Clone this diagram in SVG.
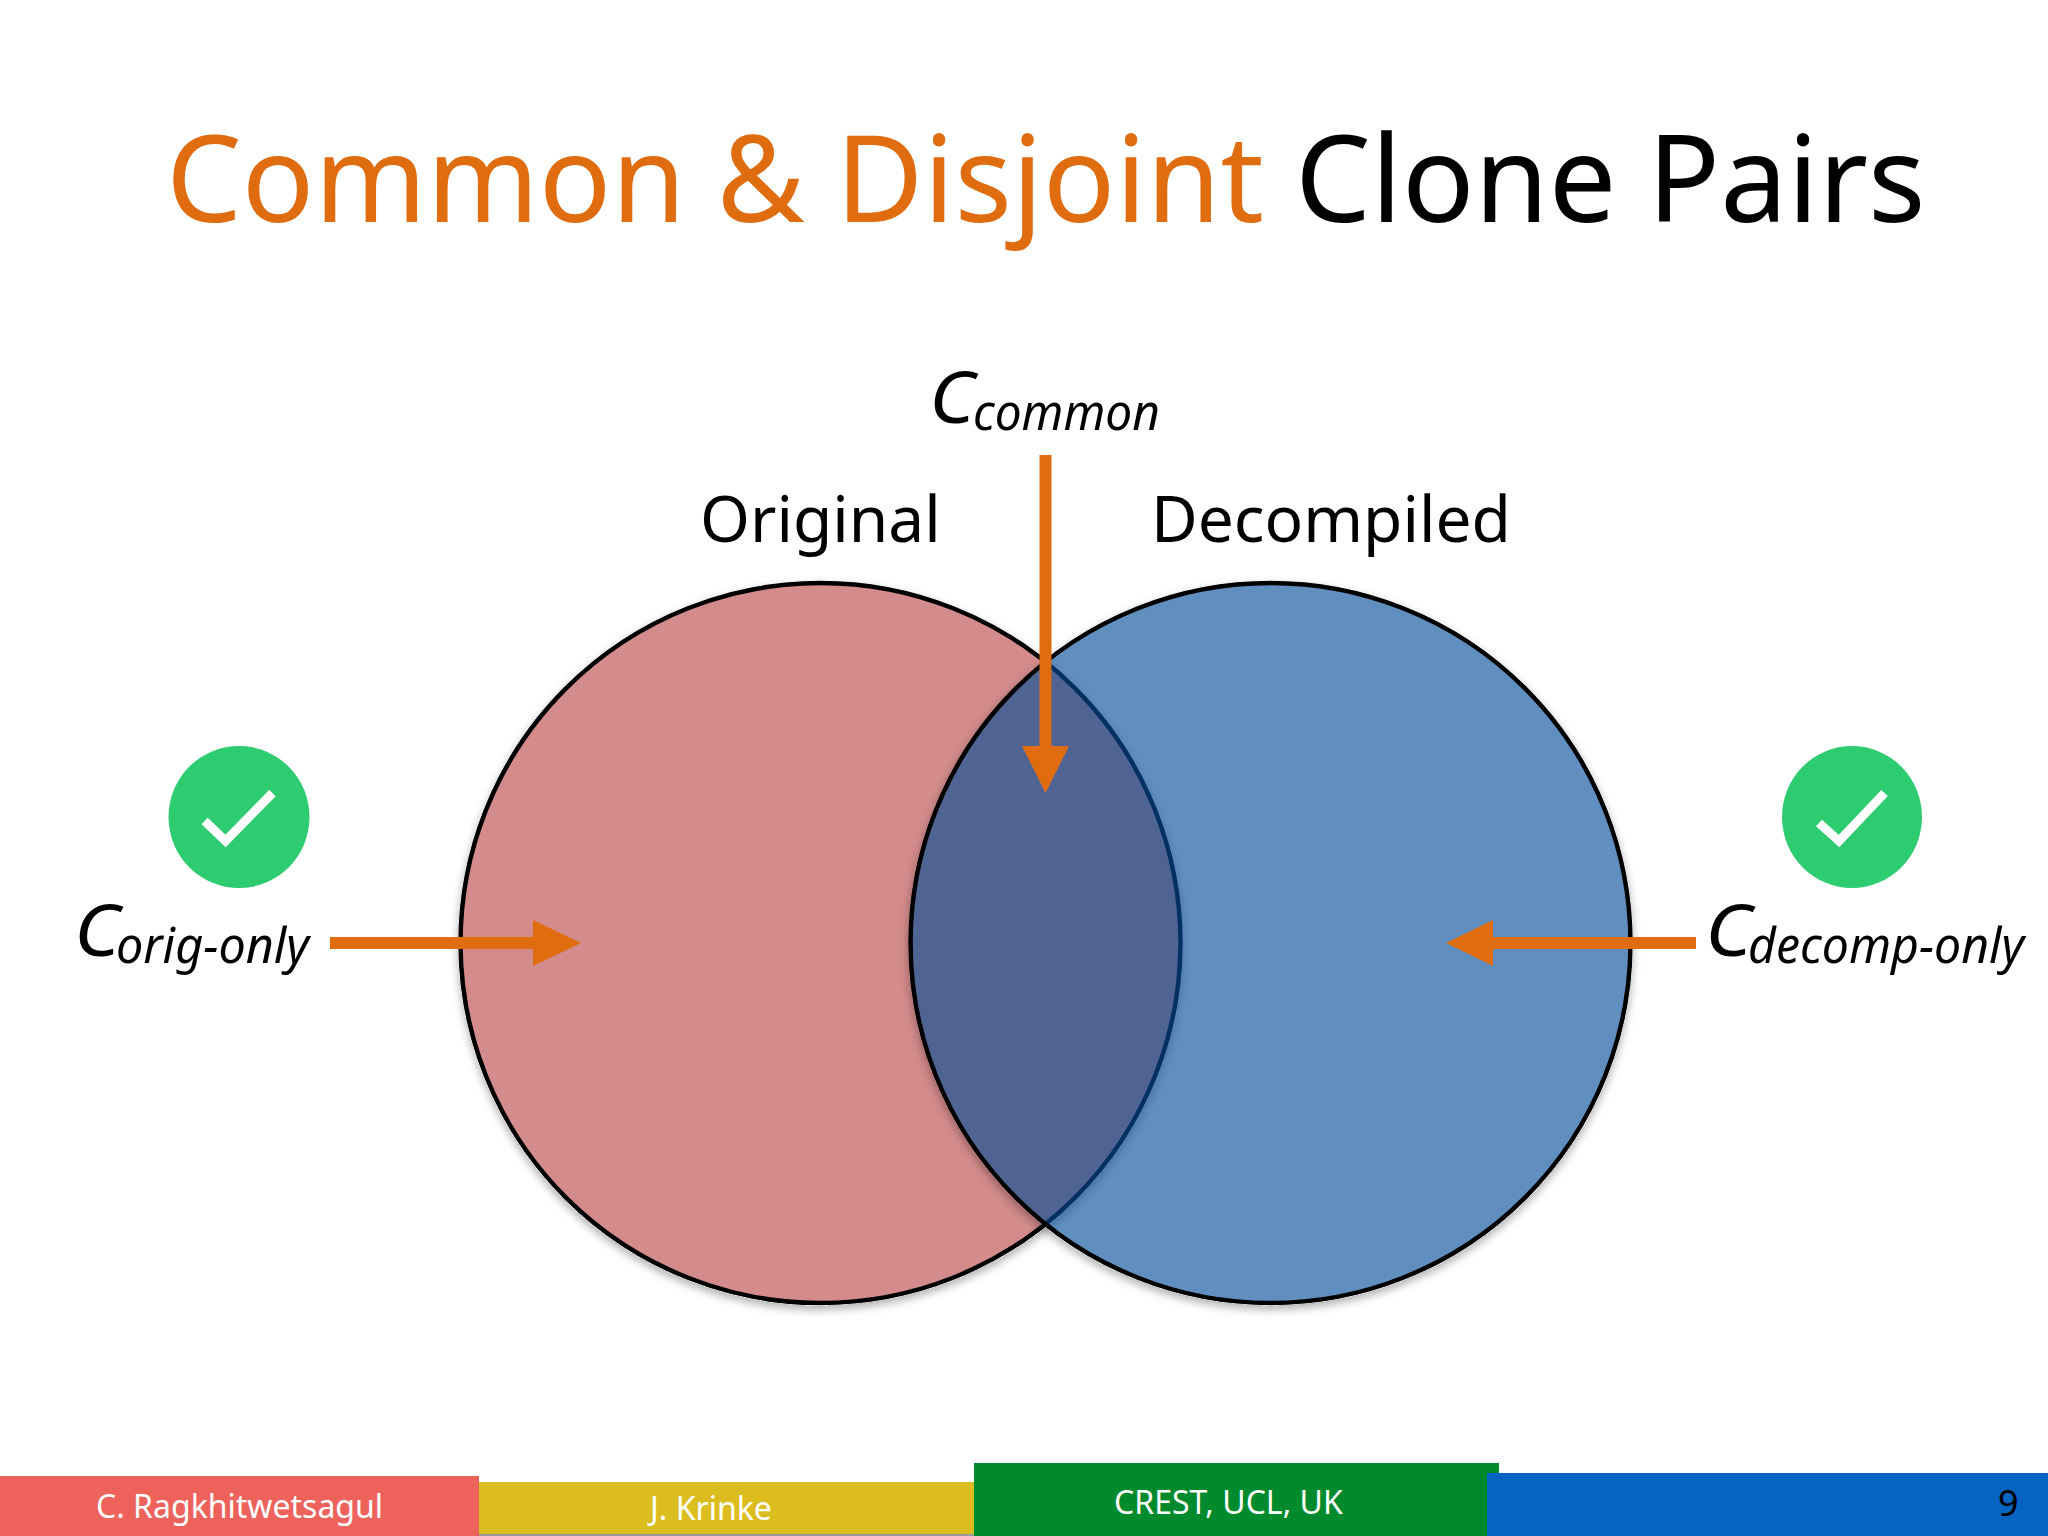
<svg xmlns="http://www.w3.org/2000/svg" width="2048" height="1536" viewBox="0 0 2048 1536">
<style>
text{font-family:"Noto Sans","Open Sans",sans-serif}
.ttl{font-size:120px}
.lbl{font-size:64px;fill:#000}
.c{font-size:72px;font-style:italic;fill:#000}
.sub{font-size:50px;font-style:italic;fill:#000}
.ft{font-size:32px;fill:#fff}
.ring{stroke:#000;stroke-width:4.5}
.arrow{fill:#e06c10}
.check{fill:none;stroke:#fff;stroke-width:9}
</style>
<defs>
<filter id="sh" x="-5%" y="-5%" width="110%" height="110%" color-interpolation-filters="sRGB">
<feColorMatrix in="SourceAlpha" type="matrix" values="0 0 0 0 0 0 0 0 0 0 0 0 0 0 0 0 0 0 40 0" result="solid"/>
<feGaussianBlur in="solid" stdDeviation="4"/>
<feOffset dy="4" result="blur"/>
<feFlood flood-color="#000" flood-opacity=".3"/>
<feComposite in2="blur" operator="in"/>
<feComposite in2="solid" operator="out" result="shadow"/>
<feMerge><feMergeNode in="shadow"/><feMergeNode in="SourceGraphic"/></feMerge>
</filter>
</defs>
<rect width="2048" height="1536" fill="#fff"/>
<g id="title"><text class="ttl" x="166" y="222" fill="#e06c10">Common &amp; Disjoint <tspan fill="#000">Clone Pairs</tspan></text></g>
<g id="original"><circle class="ring" cx="820.5" cy="943" r="360" fill="#d38b8b" filter="url(#sh)"/></g>
<g id="decompiled"><circle class="ring" cx="1270.5" cy="943" r="360" fill="#034d99" fill-opacity=".63" filter="url(#sh)"/></g>
<g id="label-original"><text class="lbl" x="700" y="542">Original</text></g>
<g id="label-decompiled"><text class="lbl" x="1151" y="542">Decompiled</text></g>
<g id="c-common"><text class="c" x="929" y="423" textLength="46" lengthAdjust="spacingAndGlyphs">C</text><text class="sub" x="973" y="430" textLength="187" lengthAdjust="spacingAndGlyphs">common</text></g>
<g id="c-orig"><text class="c" x="74" y="956" textLength="46" lengthAdjust="spacingAndGlyphs">C</text><text class="sub" x="116" y="963" textLength="193" lengthAdjust="spacingAndGlyphs">orig-only</text></g>
<g id="c-decomp"><text class="c" x="1705" y="956" textLength="47" lengthAdjust="spacingAndGlyphs">C</text><text class="sub" x="1748" y="963" textLength="276" lengthAdjust="spacingAndGlyphs">decomp-only</text></g>
<g id="check-left"><ellipse cx="239" cy="817" rx="70.5" ry="71" fill="#2ecc71"/><polyline class="check" points="204.6,821 225.6,841 272.5,793"/></g>
<g id="check-right"><ellipse cx="1852" cy="817" rx="70" ry="71" fill="#2ecc71"/><polyline class="check" points="1819,823 1839,841 1884.6,793"/></g>
<g id="connectors">
<path class="arrow" d="M330 937H533V920L581 943 533 966V949H330Z"/>
<path class="arrow" d="M1696 937H1493V920L1446 943 1493 966V949H1696Z"/>
<path class="arrow" d="M1039.5 455H1051.5V746H1069L1045.5 793 1022 746H1039.5Z"/>
</g>
<g id="footer">
<rect x="479" y="1534" width="496" height="2" fill="#999"/>
<rect x="479" y="1482" width="496" height="52" fill="#dcbd20"/>
<rect x="0" y="1476" width="479" height="60" fill="#ee625c"/>
<rect x="974" y="1463" width="525" height="73" fill="#008a2e"/>
<rect x="1487" y="1473" width="561" height="63" fill="#0563c1"/>
<text class="ft" x="96" y="1518">C. Ragkhitwetsagul</text>
<text class="ft" x="650" y="1520">J. Krinke</text>
<text class="ft" x="1114" y="1514">CREST, UCL, UK</text>
<text class="ft" x="1998" y="1516" style="fill:#000;font-size:36px">9</text>
</g>
</svg>
